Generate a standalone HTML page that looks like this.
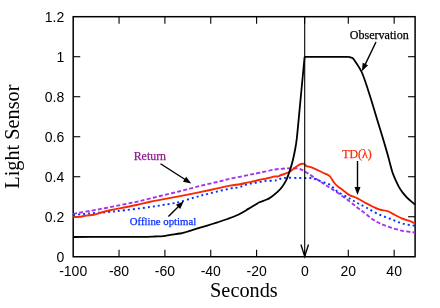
<!DOCTYPE html>
<html><head><meta charset="utf-8"><style>
html,body{margin:0;padding:0;background:#fff;}
svg{display:block;will-change:transform;}
text{font-family:"Liberation Sans",sans-serif;}
.s{font-family:"Liberation Serif",serif;}
</style></head><body>
<svg width="440" height="308" viewBox="0 0 440 308">
<rect width="440" height="308" fill="#fff"/>
<rect x="73.2" y="16.7" width="341.90000000000003" height="240.05" stroke="#000" stroke-width="1.5" fill="none"/>
<g stroke="#000" stroke-width="1.1" fill="none">
<line x1="119.05" y1="256.75" x2="119.05" y2="249.75"/><line x1="119.05" y1="16.7" x2="119.05" y2="23.7"/><line x1="164.90" y1="256.75" x2="164.90" y2="249.75"/><line x1="164.90" y1="16.7" x2="164.90" y2="23.7"/><line x1="210.75" y1="256.75" x2="210.75" y2="249.75"/><line x1="210.75" y1="16.7" x2="210.75" y2="23.7"/><line x1="256.60" y1="256.75" x2="256.60" y2="249.75"/><line x1="256.60" y1="16.7" x2="256.60" y2="23.7"/><line x1="304.60" y1="256.75" x2="304.60" y2="249.75"/><line x1="304.60" y1="16.7" x2="304.60" y2="23.7"/><line x1="348.30" y1="256.75" x2="348.30" y2="249.75"/><line x1="348.30" y1="16.7" x2="348.30" y2="23.7"/><line x1="394.15" y1="256.75" x2="394.15" y2="249.75"/><line x1="394.15" y1="16.7" x2="394.15" y2="23.7"/><line x1="73.2" y1="216.74" x2="80.2" y2="216.74"/><line x1="415.1" y1="216.74" x2="408.1" y2="216.74"/><line x1="73.2" y1="176.73" x2="80.2" y2="176.73"/><line x1="415.1" y1="176.73" x2="408.1" y2="176.73"/><line x1="73.2" y1="136.73" x2="80.2" y2="136.73"/><line x1="415.1" y1="136.73" x2="408.1" y2="136.73"/><line x1="73.2" y1="96.72" x2="80.2" y2="96.72"/><line x1="415.1" y1="96.72" x2="408.1" y2="96.72"/><line x1="73.2" y1="56.71" x2="80.2" y2="56.71"/><line x1="415.1" y1="56.71" x2="408.1" y2="56.71"/>
</g>
<g font-size="14" fill="#000"><text x="73.20" y="276.2" text-anchor="middle">-100</text><text x="119.05" y="276.2" text-anchor="middle">-80</text><text x="164.90" y="276.2" text-anchor="middle">-60</text><text x="210.75" y="276.2" text-anchor="middle">-40</text><text x="256.60" y="276.2" text-anchor="middle">-20</text><text x="304.85" y="276.2" text-anchor="middle">0</text><text x="348.30" y="276.2" text-anchor="middle">20</text><text x="394.15" y="276.2" text-anchor="middle">40</text><text x="64.3" y="261.95" text-anchor="end">0</text><text x="64.3" y="221.94" text-anchor="end">0.2</text><text x="64.3" y="181.93" text-anchor="end">0.4</text><text x="64.3" y="141.93" text-anchor="end">0.6</text><text x="64.3" y="101.92" text-anchor="end">0.8</text><text x="64.3" y="61.91" text-anchor="end">1</text><text x="64.3" y="21.90" text-anchor="end">1.2</text></g>
<text class="s" font-size="20.3" x="243.9" y="296.5" text-anchor="middle">Seconds</text>
<text class="s" font-size="20.3" transform="translate(19.1,136.6) rotate(-90)" text-anchor="middle">Light Sensor</text>
<path d="M73.20,213.80 C77.67,213.02 91.37,210.72 100.00,209.10 C108.63,207.48 118.33,205.45 125.00,204.10 C131.67,202.75 134.17,202.35 140.00,201.00 C145.83,199.65 153.33,197.62 160.00,196.00 C166.67,194.38 173.33,192.92 180.00,191.25 C186.67,189.58 193.33,187.67 200.00,186.00 C206.67,184.33 215.00,182.47 220.00,181.25 C225.00,180.03 225.21,179.74 230.00,178.70 C234.79,177.66 243.75,176.00 248.75,175.00 C253.75,174.00 255.62,173.62 260.00,172.70 C264.38,171.78 270.42,170.22 275.00,169.50 C279.58,168.78 283.96,168.58 287.50,168.40 C291.04,168.22 293.75,168.13 296.25,168.40 C298.75,168.67 300.62,169.22 302.50,170.00 C304.38,170.78 305.42,171.75 307.50,173.10 C309.58,174.45 312.50,176.43 315.00,178.10 C317.50,179.77 320.42,181.74 322.50,183.10 C324.58,184.46 325.83,185.20 327.50,186.25 C329.17,187.30 330.42,188.04 332.50,189.40 C334.58,190.76 337.08,192.35 340.00,194.40 C342.92,196.45 347.08,199.47 350.00,201.70 C352.92,203.93 355.00,205.87 357.50,207.80 C360.00,209.73 362.50,211.40 365.00,213.30 C367.50,215.20 370.00,217.52 372.50,219.20 C375.00,220.88 377.08,222.03 380.00,223.40 C382.92,224.77 386.25,226.17 390.00,227.40 C393.75,228.63 398.33,229.95 402.50,230.80 C406.67,231.65 412.92,232.22 415.00,232.50" fill="none" stroke="#a032f0" stroke-width="1.85" stroke-dasharray="4 2.25"/>
<path d="M73.20,215.20 C75.79,214.92 83.03,214.02 88.75,213.50 C94.47,212.98 101.46,212.65 107.50,212.10 C113.54,211.55 117.92,211.05 125.00,210.20 C132.08,209.35 143.75,207.87 150.00,207.00 C156.25,206.13 158.83,205.58 162.50,205.00 C166.17,204.42 169.08,204.02 172.00,203.50 C174.92,202.98 176.17,202.93 180.00,201.90 C183.83,200.87 190.00,198.73 195.00,197.30 C200.00,195.87 203.96,194.80 210.00,193.30 C216.04,191.80 226.67,189.25 231.25,188.30 C235.83,187.35 235.62,187.98 237.50,187.60 C239.38,187.22 240.92,186.53 242.50,186.00 C244.08,185.47 245.42,184.85 247.00,184.40 C248.58,183.95 250.33,183.60 252.00,183.30 C253.67,183.00 254.83,182.98 257.00,182.60 C259.17,182.22 261.79,181.37 265.00,181.00 C268.21,180.63 273.54,180.82 276.25,180.40 C278.96,179.98 279.38,178.93 281.25,178.50 C283.12,178.07 284.38,177.88 287.50,177.80 C290.62,177.72 296.25,177.97 300.00,178.00 C303.75,178.03 307.50,177.83 310.00,178.00 C312.50,178.17 312.92,178.35 315.00,179.00 C317.08,179.65 320.00,180.93 322.50,181.90 C325.00,182.87 327.50,183.20 330.00,184.80 C332.50,186.40 334.17,189.18 337.50,191.50 C340.83,193.82 346.67,196.83 350.00,198.75 C353.33,200.67 354.79,201.54 357.50,203.00 C360.21,204.46 362.92,205.71 366.25,207.50 C369.58,209.29 373.54,211.88 377.50,213.75 C381.46,215.62 385.83,217.12 390.00,218.75 C394.17,220.38 398.33,222.32 402.50,223.50 C406.67,224.68 412.92,225.42 415.00,225.80" fill="none" stroke="#0032ff" stroke-width="1.9" stroke-dasharray="2 3"/>
<path d="M73.20,217.00 C74.17,216.98 76.83,217.13 79.00,216.90 C81.17,216.67 83.79,215.96 86.25,215.60 C88.71,215.24 91.25,215.27 93.75,214.75 C96.25,214.23 98.33,213.29 101.25,212.50 C104.17,211.71 107.29,210.87 111.25,210.00 C115.21,209.13 120.62,208.18 125.00,207.30 C129.38,206.42 133.33,205.63 137.50,204.70 C141.67,203.77 145.83,202.58 150.00,201.70 C154.17,200.82 157.50,200.33 162.50,199.40 C167.50,198.47 173.75,197.32 180.00,196.10 C186.25,194.88 194.17,193.30 200.00,192.10 C205.83,190.90 210.00,189.98 215.00,188.90 C220.00,187.82 225.83,186.37 230.00,185.60 C234.17,184.83 237.17,184.80 240.00,184.30 C242.83,183.80 244.67,183.12 247.00,182.60 C249.33,182.08 251.83,181.67 254.00,181.20 C256.17,180.73 257.75,180.28 260.00,179.80 C262.25,179.32 265.00,178.87 267.50,178.30 C270.00,177.73 273.33,176.70 275.00,176.40 C276.67,176.10 276.46,176.73 277.50,176.50 C278.54,176.27 279.58,175.60 281.25,175.00 C282.92,174.40 285.83,173.63 287.50,172.90 C289.17,172.17 290.00,171.45 291.25,170.60 C292.50,169.75 293.75,168.73 295.00,167.80 C296.25,166.87 297.60,165.68 298.75,165.00 C299.90,164.32 300.96,163.87 301.90,163.70 C302.84,163.53 303.63,163.58 304.40,164.00 C305.17,164.42 305.57,165.73 306.50,166.20 C307.43,166.67 308.58,166.37 310.00,166.80 C311.42,167.23 312.92,167.85 315.00,168.80 C317.08,169.75 320.50,171.57 322.50,172.50 C324.50,173.43 325.75,173.73 327.00,174.40 C328.25,175.07 328.67,174.94 330.00,176.50 C331.33,178.06 333.33,181.82 335.00,183.75 C336.67,185.68 338.33,186.76 340.00,188.10 C341.67,189.44 343.33,190.60 345.00,191.80 C346.67,193.00 347.92,194.22 350.00,195.30 C352.08,196.38 354.83,196.98 357.50,198.30 C360.17,199.62 363.50,201.83 366.00,203.20 C368.50,204.57 370.17,205.42 372.50,206.50 C374.83,207.58 377.50,208.92 380.00,209.70 C382.50,210.48 385.00,210.32 387.50,211.20 C390.00,212.08 392.50,213.74 395.00,215.00 C397.50,216.26 400.21,217.82 402.50,218.75 C404.79,219.68 406.67,219.84 408.75,220.60 C410.83,221.36 413.96,222.85 415.00,223.30" fill="none" stroke="#fa2800" stroke-width="1.9" stroke-linejoin="round"/>
<path d="M73.20,237.00 C77.67,236.97 90.53,236.82 100.00,236.80 C109.47,236.78 122.92,236.88 130.00,236.90 C137.08,236.92 138.33,236.97 142.50,236.90 C146.67,236.83 151.48,236.63 155.00,236.50 C158.52,236.37 161.02,236.37 163.60,236.10 C166.18,235.83 167.77,235.33 170.50,234.90 C173.23,234.47 177.42,233.98 180.00,233.50 C182.58,233.02 184.07,232.53 186.00,232.00 C187.93,231.47 189.53,230.93 191.60,230.30 C193.67,229.67 195.67,229.03 198.40,228.20 C201.13,227.37 204.82,226.28 208.00,225.30 C211.18,224.32 214.25,223.35 217.50,222.30 C220.75,221.25 224.05,220.27 227.50,219.00 C230.95,217.73 234.72,216.38 238.20,214.70 C241.68,213.02 245.55,210.55 248.40,208.90 C251.25,207.25 253.47,205.90 255.30,204.80 C257.13,203.70 257.57,203.13 259.40,202.30 C261.22,201.47 264.27,200.70 266.25,199.80 C268.23,198.90 269.38,198.22 271.25,196.90 C273.12,195.58 275.71,193.55 277.50,191.90 C279.29,190.25 280.57,188.93 282.00,187.00 C283.43,185.07 285.05,182.30 286.10,180.30 C287.15,178.30 287.52,177.13 288.30,175.00 C289.08,172.87 290.03,170.00 290.80,167.50 C291.57,165.00 292.20,162.92 292.90,160.00 C293.60,157.08 294.33,153.75 295.00,150.00 C295.67,146.25 295.98,145.83 296.90,137.50 C297.82,129.17 299.22,113.43 300.50,100.00 C301.78,86.57 303.92,64.08 304.60,56.90 M304.60,56.90 C311.96,56.90 341.39,56.90 348.75,56.90 M348.75,56.90 C349.38,57.10 351.36,57.27 352.50,58.10 C353.64,58.93 354.56,60.43 355.60,61.90 C356.64,63.37 357.70,65.13 358.75,66.90 C359.80,68.67 360.76,69.90 361.90,72.50 C363.04,75.10 364.04,77.92 365.60,82.50 C367.16,87.08 369.37,93.96 371.25,100.00 C373.13,106.04 375.12,112.92 376.90,118.75 C378.67,124.58 380.13,129.12 381.90,135.00 C383.67,140.88 386.15,149.25 387.50,154.00 C388.85,158.75 389.17,160.42 390.00,163.50 C390.83,166.58 391.57,169.75 392.50,172.50 C393.43,175.25 394.56,177.65 395.60,180.00 C396.64,182.35 397.60,184.53 398.75,186.60 C399.90,188.67 401.04,190.48 402.50,192.40 C403.96,194.32 405.83,196.43 407.50,198.10 C409.17,199.77 411.25,201.33 412.50,202.40 C413.75,203.47 414.58,204.15 415.00,204.50" fill="none" stroke="#000" stroke-width="1.8" stroke-linejoin="round"/>
<line x1="304.7" y1="16.7" x2="304.7" y2="256.75" stroke="#000" stroke-width="1.1"/>
<polyline points="300.9,244.5 304.7,256.5 308.5,244.5" fill="none" stroke="#000" stroke-width="1.3"/>
<line x1="376" y1="42" x2="364.51" y2="65.85" stroke="#000" stroke-width="1.4"/><polygon points="361.9,71.25 362.67,62.74 368.08,65.35" fill="#000"/><line x1="160.5" y1="163.75" x2="186.25" y2="180.26" stroke="#000" stroke-width="1.4"/><polygon points="191.3,183.5 182.95,181.71 186.18,176.66" fill="#000"/><line x1="168.4" y1="216.6" x2="179.51" y2="205.49" stroke="#000" stroke-width="1.4"/><polygon points="183.75,201.25 180.21,209.03 175.97,204.79" fill="#000"/><line x1="357.5" y1="161" x2="357.50" y2="189.00" stroke="#000" stroke-width="1.4"/><polygon points="357.5,195 354.50,187.00 360.50,187.00" fill="#000"/>
<text class="s" font-size="12.05" x="349.8" y="38.5" fill="#000" stroke="#000" stroke-width="0.25">Observation</text>
<text class="s" font-size="11.8" x="342.3" y="158" fill="#f8300c" stroke="#f8300c" stroke-width="0.25">TD(λ)</text>
<text class="s" font-size="11.9" x="133.7" y="160.1" fill="#8f1a92" stroke="#8f1a92" stroke-width="0.25">Return</text>
<text class="s" font-size="10.75" x="129.8" y="224.8" fill="#0a30ff" stroke="#0a30ff" stroke-width="0.25">Offline optimal</text>
</svg>
</body></html>
